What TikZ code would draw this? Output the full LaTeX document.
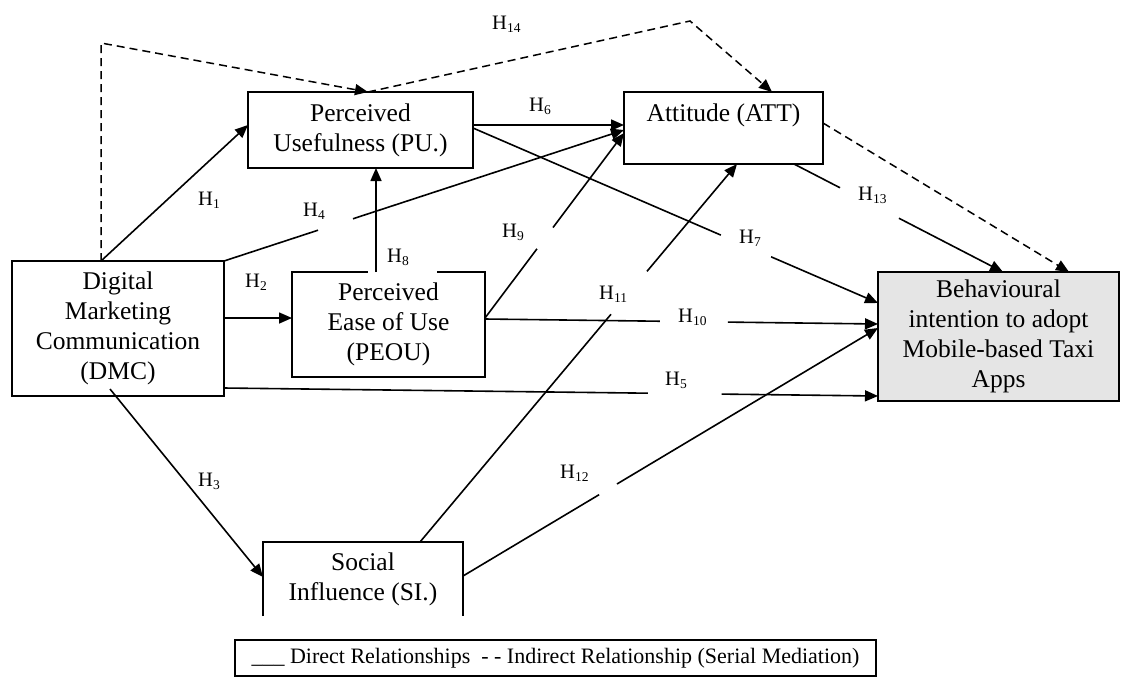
\documentclass[tikz,border=0pt]{standalone}
\usepackage{fontspec}
\setmainfont{Liberation Serif}
\usetikzlibrary{arrows.meta,calc}
\newcommand\dgboxfont{\fontsize{25.5}{30}\selectfont}
\newcommand\dglabfont{\fontsize{20.5}{20.5}\selectfont}
\newcommand\dglegfont{\fontsize{22}{22}\selectfont}
\newcommand\hsub[1]{H\raisebox{-3.8pt}{\fontsize{13.5}{13.5}\selectfont #1}}
\begin{document}
\begin{tikzpicture}[x=1pt,y=-1pt,
  box/.style={draw, line width=1.2pt, inner sep=0pt, outer sep=0pt, align=center, font=\dgboxfont},
  conn/.style={line width=1.6pt, -{Triangle[length=13pt,width=11pt]}},
  indirect/.style={line width=1.5pt, dash pattern=on 8pt off 5pt, -{Triangle[length=13pt,width=11pt]}},
  hlab/.style={anchor=base west, inner sep=0pt, font=\dglabfont}]
\useasboundingbox (0,0) rectangle (1121,678);

% boxes
\node[box, minimum width=212pt, minimum height=135pt] (dmc) at (118,328.5) {Digital\\Marketing\\Communication\\(DMC)};
\node[box, minimum width=225pt, minimum height=76pt] (pu) at (360.5,130) {Perceived\\Usefulness (PU.)};
\node[box, minimum width=193pt, minimum height=105pt] (peou) at (388.5,324.5) {Perceived\\Ease of Use\\(PEOU)};
\node[box, minimum width=199pt, minimum height=72pt] (att) at (723.5,128) {Attitude (ATT)\\\mbox{}};
\node[box, fill=black!10, minimum width=241pt, minimum height=129pt] (bi) at (998.5,336.5) {Behavioural\\intention to adopt\\Mobile-based Taxi\\Apps};
\node[inner sep=0pt, outer sep=0pt, align=center, font=\dgboxfont, minimum width=200pt, minimum height=74pt] (si) at (363,579) {Social\\Influence (SI.)};
\draw[line width=1.2pt] (si.south west) -- (si.north west) -- (si.north east) -- (si.south east);
\node[draw, line width=1.3pt, inner sep=0pt, minimum width=641pt, minimum height=36pt, font=\dglegfont] (legend) at (555.5,658) {\_\_\_ Direct Relationships\ \ - - Indirect Relationship (Serial Mediation)};

% white text-box background of the H8 label over the PEOU border
\fill[white] ($(peou.north west)+(76,-2)$) rectangle ($(peou.north west)+(145,2)$);

% connector end points
\coordinate (h1s) at ($(dmc.north west)+(89,0)$);
\coordinate (h1e) at ($(pu.north west)+(0,33)$);
\coordinate (h2s) at ($(dmc.north east)+(0,57)$);
\coordinate (h2e) at ($(peou.north west)+(0,46)$);
\coordinate (h3s) at ($(dmc.south west)+(98,-7)$);
\coordinate (h3e) at ($(si.north west)+(0,35)$);
\coordinate (h4s) at (dmc.north east);
\coordinate (h4e) at ($(att.north west)+(0,38)$);
\coordinate (h5s) at ($(dmc.south east)+(0,-8)$);
\coordinate (h5e) at ($(bi.north west)+(0,124)$);
\coordinate (h6s) at ($(pu.north east)+(0,33)$);
\coordinate (h6e) at ($(att.north west)+(0,33)$);
\coordinate (h7s) at ($(pu.north east)+(0,36)$);
\coordinate (h7e) at ($(bi.north west)+(0,31)$);
\coordinate (h8s) at ($(peou.north west)+(84,0)$);
\coordinate (h8e) at ($(pu.south west)+(128,0)$);
\coordinate (h9s) at ($(peou.north east)+(0,46)$);
\coordinate (h9e) at ($(att.north west)+(0,41)$);
\coordinate (h10s) at ($(peou.north east)+(0,47)$);
\coordinate (h10e) at ($(bi.north west)+(0,52)$);
\coordinate (h11s) at ($(si.north west)+(157,0)$);
\coordinate (h11e) at ($(att.south west)+(113,0)$);
\coordinate (h12s) at ($(si.north east)+(0,34)$);
\coordinate (h12e) at ($(bi.north west)+(0,56)$);
\coordinate (h13s) at ($(att.south west)+(170,0)$);
\coordinate (h13e) at ($(bi.north west)+(125,0)$);
\coordinate (d1c) at (101,43);
\coordinate (d1e) at ($(pu.north west)+(120,0)$);
\coordinate (d2c) at (690,21);
\coordinate (d2e) at ($(att.north west)+(148,0)$);
\coordinate (d3s) at ($(att.north east)+(0,31)$);
\coordinate (d3e) at ($(bi.north west)+(191,0)$);

% direct relationships
\draw[conn] (h1s) -- (h1e);
\draw[conn] (h2s) -- (h2e);
\draw[conn] (h3s) -- (h3e);
\draw[conn] (h4s) -- ($(h4s)!0.235!(h4e)$) ($(h4s)!0.3225!(h4e)$) -- (h4e);
\draw[conn] (h5s) -- ($(h5s)!0.648!(h5e)$) ($(h5s)!0.761!(h5e)$) -- (h5e);
\draw[conn] (h6s) -- (h6e);
\draw[conn] (h7s) -- ($(h7s)!0.612!(h7e)$) ($(h7s)!0.736!(h7e)$) -- (h7e);
\draw[conn] (h8s) -- (h8e);
\draw[conn] (h9s) -- ($(h9s)!0.374!(h9e)$) ($(h9s)!0.489!(h9e)$) -- (h9e);
\draw[conn] (h10s) -- ($(h10s)!0.445!(h10e)$) ($(h10s)!0.618!(h10e)$) -- (h10e);
\draw[conn] (h11s) -- ($(h11s)!0.6025!(h11e)$) ($(h11s)!0.716!(h11e)$) -- (h11e);
\draw[conn] (h12s) -- ($(h12s)!0.328!(h12e)$) ($(h12s)!0.371!(h12e)$) -- (h12e);
\draw[conn] (h13s) -- ($(h13s)!0.22!(h13e)$) ($(h13s)!0.502!(h13e)$) -- (h13e);

% indirect relationships
\draw[indirect] (h1s) -- (d1c) -- (d1e);
\draw[indirect] (d1e) -- (d2c) -- (d2e);
\draw[indirect] (d3s) -- (d3e);

% labels
\node[hlab] (l14) at (492,29) {\hsub{14}};
\node[hlab] (l6) at (529,111) {\hsub{6}};
\node[hlab] (l1) at (198,205) {\hsub{1}};
\node[hlab] (l4) at (303,216) {\hsub{4}};
\node[hlab] (l9) at (502,237) {\hsub{9}};
\node[hlab] (l8) at (387,262) {\hsub{8}};
\node[hlab] (l2) at (245,287) {\hsub{2}};
\node[hlab] (l3) at (198,486) {\hsub{3}};
\node[hlab] (l7) at (739,243) {\hsub{7}};
\node[hlab] (l13) at (858,200) {\hsub{13}};
\node[hlab] (l11) at (599,299) {\hsub{11}};
\node[hlab] (l10) at (678,322) {\hsub{10}};
\node[hlab] (l5) at (665,385) {\hsub{5}};
\node[hlab] (l12) at (560,478) {\hsub{12}};
\end{tikzpicture}
\end{document}
